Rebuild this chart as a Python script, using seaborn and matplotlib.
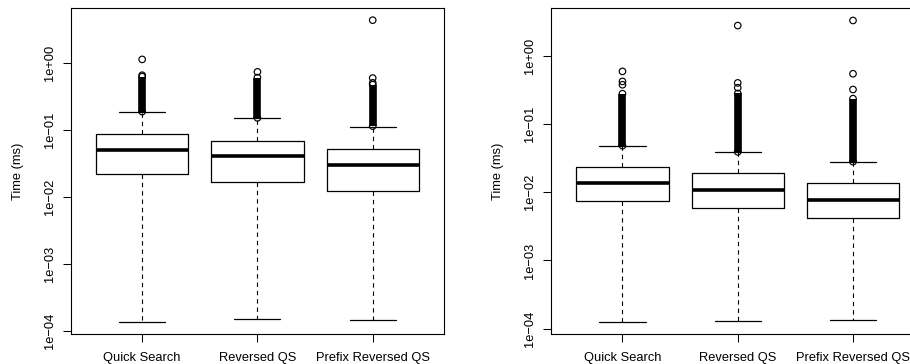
import numpy as np
import pandas as pd
import matplotlib
matplotlib.use('Agg')
import matplotlib.pyplot as plt
import seaborn as sns
from matplotlib.ticker import NullLocator

sns.set_theme(style='white')
plt.rcParams['font.family'] = ['Liberation Sans', 'DejaVu Sans']

methods = ['Quick Search', 'Reversed QS', 'Prefix Reversed QS']

# left panel, box statistics in ms
left_whislo = [1.35e-4, 1.47e-4, 1.42e-4]
left_q1 = [0.0215, 0.0167, 0.0121]
left_med = [0.0505, 0.0400, 0.0300]
left_q3 = [0.0863, 0.0680, 0.0516]
left_whishi = [0.183, 0.147, 0.111]
# thousands of outliers pile up into a solid column: (lower, upper) ends
left_dense_lo = [0.186, 0.150, 0.113]
left_dense_hi = [0.62, 0.60, 0.47]
left_outliers = [[0.65, 1.12], [0.73], [0.50, 0.59, 4.31]]

# right panel
right_whislo = [1.24e-4, 1.29e-4, 1.34e-4]
right_q1 = [0.00738, 0.00577, 0.00416]
right_med = [0.0135, 0.0106, 0.00763]
right_q3 = [0.0234, 0.0188, 0.0135]
right_whishi = [0.0475, 0.0385, 0.0277]
right_dense_lo = [0.048, 0.039, 0.028]
right_dense_hi = [0.278, 0.28, 0.235]
right_outliers = [[0.376, 0.42, 0.59], [0.34, 0.40, 2.77], [0.32, 0.545, 3.29]]

ytick_vals = [1e-4, 1e-3, 1e-2, 1e-1, 1e0]
ytick_labels = ['1e\u221204', '1e\u221203', '1e\u221202', '1e\u221201', '1e+00']


def draw_panel(ax, whislo, q1, med, q3, whishi, dense_lo, dense_hi, outliers):
    n = len(methods)
    pos = np.arange(1, n + 1)
    stats = []
    for i in range(n):
        stats.append(dict(label=methods[i], whislo=whislo[i], q1=q1[i], med=med[i],
                          q3=q3[i], whishi=whishi[i], fliers=[]))
    ax.bxp(stats, positions=pos, widths=0.8, capwidths=0.4, showfliers=False,
           boxprops=dict(color='black', linewidth=0.9),
           medianprops=dict(color='black', linewidth=2.6, solid_capstyle='butt'),
           whiskerprops=dict(color='black', linewidth=0.8, linestyle=(0, (4, 3.5))),
           capprops=dict(color='black', linewidth=0.9))

    # dense outlier columns
    ax.vlines(pos, dense_lo, dense_hi, color='black', linewidth=5.5, capstyle='butt')

    xs, ys = [], []
    for i in range(n):
        for v in [dense_lo[i], dense_hi[i]] + outliers[i]:
            xs.append(pos[i])
            ys.append(v)
    pts = pd.DataFrame({'x': xs, 'y': ys})
    sns.scatterplot(data=pts, x='x', y='y', ax=ax, marker='o', s=22,
                    facecolor='none', edgecolor='black', linewidth=0.85, zorder=4)

    ax.set_yscale('log')
    # R style limits: data range widened by 4 % (log space)
    lo = np.log10(min(whislo))
    hi = np.log10(max(max(o) for o in outliers))
    pad = 0.04 * (hi - lo)
    ax.set_ylim(10 ** (lo - pad), 10 ** (hi + pad))
    ax.set_xlim(0.5 - 0.04 * n, n + 0.5 + 0.04 * n)

    ax.set_xticks(pos)
    ax.set_xticklabels(methods, fontsize=9.3)
    ax.set_yticks(ytick_vals)
    ax.set_yticklabels(ytick_labels, fontsize=9.3, rotation=90, va='center')
    ax.yaxis.set_minor_locator(NullLocator())
    ax.tick_params(axis='both', direction='out', length=5.5, width=0.75, color='black',
                   left=True, bottom=True, labelcolor='black')
    ax.tick_params(axis='x', pad=7.5)
    ax.tick_params(axis='y', pad=5)
    ax.set_xlabel('')
    ax.set_ylabel('Time (ms)', fontsize=9.3, color='black')
    ax.yaxis.set_label_coords(-0.125, 0.5)
    for sp in ax.spines.values():
        sp.set_color('black')
        sp.set_linewidth(0.8)
        sp.set_visible(True)
    ax.grid(False)


fig = plt.figure(figsize=(9.1, 3.64), dpi=100)
ax1 = fig.add_axes([0.0777, 0.0824, 0.4104, 0.8953])
ax2 = fig.add_axes([0.6055, 0.0816, 0.4104, 0.8953])

draw_panel(ax1, left_whislo, left_q1, left_med, left_q3, left_whishi,
           left_dense_lo, left_dense_hi, left_outliers)
draw_panel(ax2, right_whislo, right_q1, right_med, right_q3, right_whishi,
           right_dense_lo, right_dense_hi, right_outliers)

fig.savefig('out.png', dpi=100)
